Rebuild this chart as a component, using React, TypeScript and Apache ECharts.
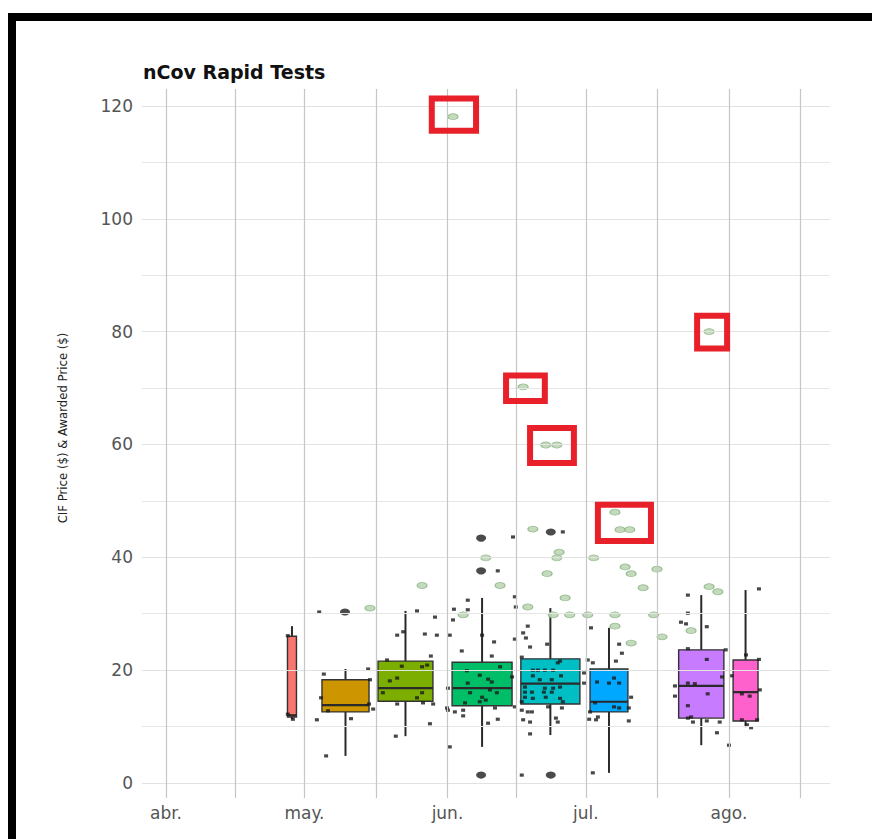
import React, { useEffect, useRef } from "react";
import * as echarts from "echarts";

// x positions are days counted from 1 April
const monthStartDays = [0, 30, 61, 91, 122];
const monthLabels = ["abr.", "may.", "jun.", "jul.", "ago."];
const midMonthDays = [15, 45.5, 76, 106.5, 137.5];
const priceTicks = [0, 20, 40, 60, 80, 100, 120];
const priceMinorTicks = [10, 30, 50, 70, 90, 110];

// weekly box summaries
const boxCenterDays = [27.3, 38.9, 51.9, 68.5, 83.3, 96.0, 116.0, 125.6];
const boxWidthDays = [1.95, 10.2, 11.9, 13.0, 12.8, 8.2, 9.8, 5.4];
const boxMin = [11.3, 4.8, 8.3, 6.4, 8.5, 1.8, 6.7, 9.9];
const boxQ1 = [11.7, 12.6, 14.5, 13.7, 14.0, 12.6, 11.5, 11.0];
const boxMedian = [12.0, 13.8, 16.8, 16.8, 17.6, 14.4, 17.2, 16.1];
const boxQ3 = [26.0, 18.3, 21.6, 21.4, 22.0, 20.2, 23.6, 21.8];
const boxMax = [27.8, 20.2, 30.5, 32.8, 31.0, 27.5, 33.3, 34.2];
const boxColors = ["#F8766D", "#CD9600", "#7CAE00", "#00BE67", "#00BFC4", "#00A9FF", "#C77CFF", "#FF61CC"];

// awarded prices (jittered day, price)
const awardedPrices: number[][] = [
  [26.4, 26.1], [26.4, 12.2], [27.5, 11.3],
  [33.2, 30.3], [34.2, 19.3], [43.8, 20.2], [33.6, 15.1], [44.2, 18.3], [35.1, 12.8],
  [44.0, 14.0], [44.9, 13.1], [32.7, 11.2], [40.1, 11.4], [34.7, 4.8],
  [54.4, 30.5], [58.3, 29.4], [50.1, 26.2], [51.4, 26.8], [56.1, 26.4], [58.7, 26.2],
  [47.9, 21.8], [51.1, 20.7], [55.5, 20.6], [56.6, 20.9], [50.1, 18.6], [48.5, 18.1],
  [47.0, 16.0], [54.4, 15.1], [55.5, 16.0], [50.1, 14.0], [55.7, 14.2], [57.9, 14.0],
  [57.2, 10.5], [49.8, 8.3],
  [71.9, 37.6], [75.2, 43.6], [65.4, 32.4], [65.4, 30.7], [62.4, 30.8], [62.2, 28.9],
  [61.5, 26.2], [68.5, 26.2], [71.1, 25.0], [64.1, 23.4], [70.6, 22.5], [57.4, 22.5],
  [65.2, 19.9], [65.4, 17.7], [68.0, 19.1], [69.8, 18.4], [70.6, 17.9], [70.2, 16.5],
  [68.5, 15.2], [65.9, 16.0], [64.8, 14.2], [71.7, 16.0], [72.4, 20.6], [75.0, 18.8],
  [68.0, 14.4], [69.3, 14.7], [61.1, 12.9], [62.6, 12.6], [64.4, 12.9], [64.4, 11.9],
  [60.9, 13.3], [71.3, 13.3], [69.8, 10.6], [71.9, 11.3], [61.5, 6.4], [75.6, 13.5],
  [75.6, 25.5], [61.1, 16.8],
  [86.0, 44.5], [75.6, 33.0], [75.8, 31.2], [78.4, 27.8], [77.4, 26.6], [78.0, 25.7],
  [82.6, 24.6], [78.9, 24.1], [77.1, 22.3], [85.4, 21.6], [84.9, 21.3], [79.5, 20.0],
  [80.6, 20.0], [82.1, 20.0], [83.9, 20.0], [79.5, 19.0], [81.0, 18.3], [83.6, 18.3],
  [85.6, 19.0], [77.8, 17.0], [82.1, 16.8], [83.9, 16.8], [85.4, 17.0], [77.8, 16.1],
  [79.3, 16.1], [81.9, 16.1], [83.6, 16.1], [77.8, 15.2], [79.5, 15.0], [82.3, 15.2],
  [85.4, 15.0], [77.1, 14.4], [86.0, 14.4], [77.1, 12.9], [78.4, 12.6], [79.3, 12.6],
  [82.8, 13.5], [85.8, 13.3], [77.4, 11.2], [78.9, 10.8], [84.5, 11.5], [84.9, 10.8],
  [78.9, 8.7], [77.1, 1.4],
  [92.1, 27.5], [98.2, 24.6], [98.8, 23.0], [91.4, 21.8], [92.5, 21.3], [97.5, 21.6],
  [93.4, 17.9], [97.1, 18.6], [96.0, 17.7], [98.2, 17.7], [90.6, 19.5], [90.6, 17.7],
  [100.8, 15.2], [93.0, 14.2], [97.1, 13.5], [98.2, 13.3], [100.3, 13.3], [91.9, 12.6],
  [91.7, 11.3], [93.2, 11.2], [93.6, 11.7], [100.3, 11.0], [92.5, 1.8],
  [113.1, 33.3], [113.1, 30.1], [111.6, 28.5], [112.7, 28.2], [117.2, 27.7], [113.1, 23.8],
  [121.3, 23.6], [117.2, 21.9], [120.5, 18.8], [110.3, 17.2], [113.1, 17.7], [114.6, 17.6],
  [117.4, 15.8], [110.3, 15.4], [113.1, 13.7], [113.1, 11.5], [113.8, 11.7], [114.2, 10.8],
  [117.2, 11.0], [120.0, 10.8], [119.4, 8.9], [122.0, 6.7],
  [128.5, 34.4], [125.7, 22.7], [128.5, 21.9], [122.6, 19.0], [128.7, 16.5], [124.8, 15.8],
  [126.5, 15.4], [124.8, 11.2], [128.1, 11.2], [125.9, 10.3], [126.8, 9.8],
];

// repeated awarded prices that stack on top of each other
const repeatedAwarded: number[][] = [
  [38.8, 30.3], [68.3, 43.4], [68.3, 37.6], [68.3, 1.4], [83.4, 44.5], [83.4, 1.4],
];

// CIF prices
const cifPrices: number[][] = [
  [62.2, 118.1], [77.4, 70.2], [82.3, 59.9], [84.7, 59.9], [97.3, 48.0], [98.4, 44.9],
  [100.5, 44.9], [117.7, 80.0],
  [44.2, 31.0], [55.5, 35.0], [69.3, 39.9], [72.4, 35.0], [64.4, 29.8], [79.5, 45.0],
  [85.2, 40.9], [84.7, 39.9], [82.6, 37.1], [78.4, 31.2], [83.9, 29.8], [86.5, 32.8],
  [92.7, 39.9], [99.5, 38.3], [100.8, 37.1], [106.4, 37.9], [103.4, 34.6], [87.5, 29.8],
  [91.4, 29.8], [97.3, 29.8], [105.7, 29.8], [97.3, 27.8], [100.8, 24.8], [107.5, 25.9],
  [113.8, 27.0], [117.7, 34.8], [119.6, 33.9],
];

// flagged CIF prices: [dayFrom, dayTo, priceFrom, priceTo]
const flaggedRanges: number[][] = [
  [57.6, 67.2, 115.6, 121.3],
  [73.7, 82.1, 67.7, 72.2],
  [78.9, 88.4, 56.7, 62.9],
  [93.6, 105.1, 42.9, 49.3],
  [115.1, 121.6, 77.0, 82.8],
];

const boxData = boxCenterDays.map((d, i) => [d, boxWidthDays[i], boxMin[i], boxQ1[i], boxMedian[i], boxQ3[i], boxMax[i]]);

function renderBox(params: any, api: any) {
  const x = api.value(0);
  const w = api.value(1);
  const lo = api.coord([x, api.value(2)]);
  const hi = api.coord([x, api.value(6)]);
  const q1 = api.coord([x - w / 2, api.value(3)]);
  const q3 = api.coord([x + w / 2, api.value(5)]);
  const mL = api.coord([x - w / 2, api.value(4)]);
  const mR = api.coord([x + w / 2, api.value(4)]);
  return {
    type: "group",
    children: [
      { type: "line", shape: { x1: lo[0], y1: lo[1], x2: hi[0], y2: hi[1] }, style: { stroke: "#2a2a2a", lineWidth: 2 } },
      {
        type: "rect",
        shape: { x: q1[0], y: q3[1], width: q3[0] - q1[0], height: q1[1] - q3[1] },
        style: { fill: boxColors[params.dataIndex], stroke: "#333333", lineWidth: 1.4 },
      },
      { type: "line", shape: { x1: mL[0], y1: mL[1], x2: mR[0], y2: mR[1] }, style: { stroke: "#2a2a2a", lineWidth: 2.2 } },
    ],
  };
}

function renderFlag(_params: any, api: any) {
  const a = api.coord([api.value(0), api.value(3)]);
  const b = api.coord([api.value(1), api.value(2)]);
  return {
    type: "rect",
    shape: { x: a[0], y: a[1], width: b[0] - a[0], height: b[1] - a[1] },
    style: { fill: "none", stroke: "#E8202A", lineWidth: 6 },
  };
}

const tickFont = { fontFamily: "DejaVu Sans", fontSize: 17, color: "#555555" };

export default function App() {
  const ref = useRef<HTMLDivElement>(null);
  useEffect(() => {
    document.body.style.margin = "0";
    const chart = echarts.init(ref.current!, null, { renderer: "svg" });
    chart.setOption({
      animation: false,
      backgroundColor: "#ffffff",
      title: {
        text: "nCov Rapid Tests",
        left: 138,
        top: 57,
        textStyle: { fontFamily: "DejaVu Sans", fontSize: 19, fontWeight: "bold", color: "#111111" },
      },
      grid: { left: 142, right: 42, top: 89, bottom: 41 },
      xAxis: {
        type: "value",
        min: -5.2,
        max: 143.9,
        axisLine: { show: false },
        axisTick: { show: false, customValues: monthStartDays },
        splitLine: { show: false },
        axisLabel: {
          ...tickFont,
          margin: 6,
          customValues: monthStartDays,
          formatter: (v: number) => monthLabels[monthStartDays.indexOf(v)] ?? "",
        },
      },
      yAxis: {
        type: "value",
        min: -2.66,
        max: 123,
        axisLine: { show: false },
        axisTick: { show: false, customValues: priceTicks },
        splitLine: { show: false },
        axisLabel: { ...tickFont, margin: 9, customValues: priceTicks },
      },
      graphic: [
        {
          type: "text",
          x: 62,
          y: 428,
          rotation: Math.PI / 2,
          style: {
            text: "CIF Price ($) & Awarded Price ($)",
            fontFamily: "'Liberation Sans Narrow', 'DejaVu Sans Condensed', sans-serif",
            fontSize: 13,
            fill: "#222222",
            align: "center",
            verticalAlign: "middle",
          },
        },
        {
          type: "rect",
          shape: { x: 12, y: 17, width: 900, height: 900 },
          style: { fill: "none", stroke: "#000000", lineWidth: 8 },
          z: 100,
        },
      ],
      series: [
        {
          type: "scatter",
          z: 0,
          data: [],
          silent: true,
          markLine: {
            silent: true,
            symbol: ["none", "none"],
            label: { show: false },
            animation: false,
            data: [
              ...priceTicks.map((v) => ({ yAxis: v, lineStyle: { color: "#e2e2e2", width: 1.2, type: "solid" } })),
              ...priceMinorTicks.map((v) => ({ yAxis: v, lineStyle: { color: "#e6e6e6", width: 1.2, type: "solid" } })),
              ...monthStartDays.map((v) => ({ xAxis: v, lineStyle: { color: "#c6c6c6", width: 1.2, type: "solid" } })),
              ...midMonthDays.map((v) => ({ xAxis: v, lineStyle: { color: "#c6c6c6", width: 1.2, type: "solid" } })),
            ],
          },
        },
        {
          type: "custom",
          z: 2,
          renderItem: renderBox,
          encode: { x: 0, y: [2, 6] },
          data: boxData,
        },
        {
          type: "scatter",
          z: 3,
          symbol: "rect",
          symbolSize: [4, 3.2],
          itemStyle: { color: "#1a1a1a" },
          data: awardedPrices,
        },
        {
          type: "scatter",
          z: 3,
          symbol: "circle",
          symbolSize: [10, 7],
          itemStyle: { color: "#1e1e1e" },
          data: repeatedAwarded,
        },
        {
          type: "scatter",
          z: 4,
          symbol: "circle",
          symbolSize: [10, 6],
          itemStyle: { color: "#bcd6b6", borderColor: "#92b88c", borderWidth: 1, opacity: 0.9 },
          data: cifPrices,
        },
        {
          type: "custom",
          z: 5,
          renderItem: renderFlag,
          encode: { x: [0, 1], y: [2, 3] },
          data: flaggedRanges,
        },
      ],
    });
    return () => chart.dispose();
  }, []);
  return <div ref={ref} style={{ width: 872, height: 839 }} />;
}
